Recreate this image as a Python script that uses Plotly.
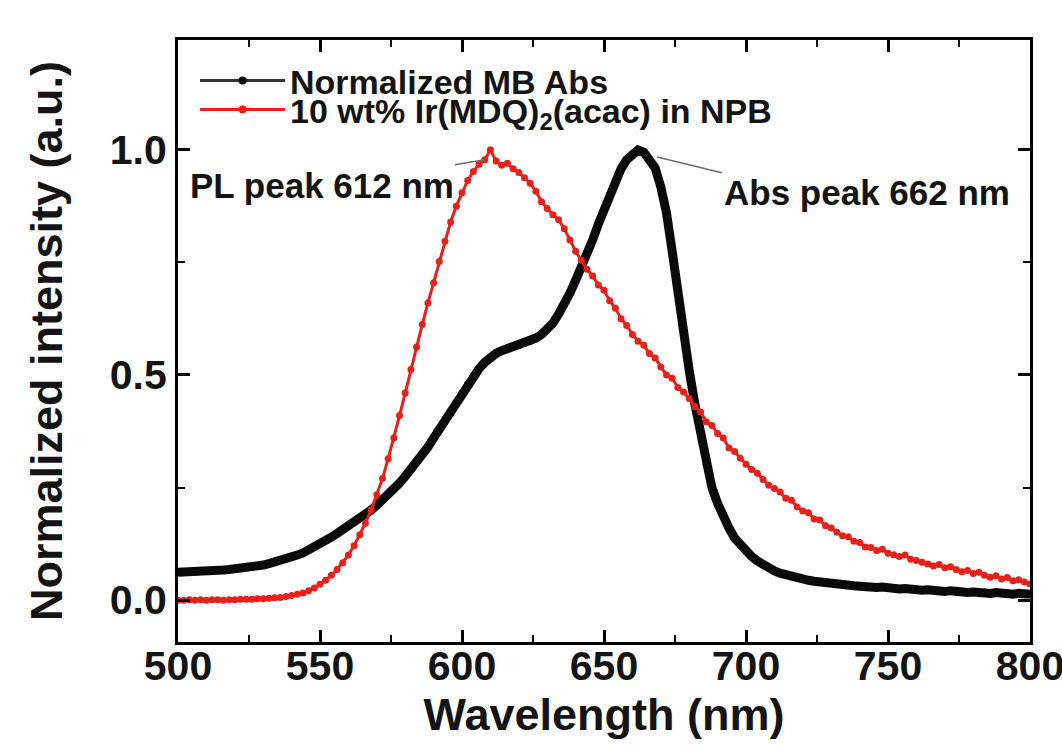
import plotly.graph_objects as go

# ---- data ----
abs_wavelength = list(range(500, 801, 2))
abs_intensity = [
    0.062, 0.062, 0.063, 0.063, 0.064, 0.065, 0.066, 0.066, 0.067, 0.068,  # 500-518
    0.069, 0.071, 0.072, 0.074, 0.076, 0.078, 0.081, 0.084, 0.088, 0.091,  # 520-538
    0.095, 0.100, 0.105, 0.111, 0.117, 0.124, 0.132, 0.140, 0.148, 0.156,  # 540-558
    0.165, 0.173, 0.182, 0.191, 0.200, 0.211, 0.222, 0.233, 0.245, 0.260,  # 560-578
    0.275, 0.290, 0.305, 0.322, 0.340, 0.360, 0.380, 0.400, 0.420, 0.440,  # 580-598
    0.460, 0.480, 0.498, 0.514, 0.528, 0.539, 0.548, 0.554, 0.558, 0.562,  # 600-618
    0.565, 0.570, 0.575, 0.582, 0.590, 0.600, 0.615, 0.635, 0.655, 0.682,  # 620-638
    0.710, 0.738, 0.768, 0.800, 0.835, 0.868, 0.902, 0.932, 0.958, 0.978,  # 640-658
    0.992, 1.000, 0.995, 0.980, 0.960, 0.918, 0.860, 0.775, 0.680, 0.590,  # 660-678
    0.510, 0.435, 0.370, 0.300, 0.250, 0.215, 0.185, 0.160, 0.138, 0.122,  # 680-698
    0.108, 0.097, 0.087, 0.078, 0.071, 0.065, 0.060, 0.056, 0.052, 0.049,  # 700-718
    0.046, 0.044, 0.042, 0.040, 0.038, 0.037, 0.035, 0.034, 0.033, 0.032,  # 720-738
    0.031, 0.029, 0.030, 0.028, 0.029, 0.026, 0.027, 0.025, 0.026, 0.023,  # 740-758
    0.024, 0.022, 0.023, 0.021, 0.022, 0.019, 0.021, 0.018, 0.020, 0.017,  # 760-778
    0.018, 0.016, 0.018, 0.015, 0.017, 0.014, 0.016, 0.013, 0.015, 0.012,  # 780-798
    0.013,                                                                 # 800
]

pl_wavelength = list(range(500, 801, 2))
pl_intensity = [
    0.000, 0.000, 0.001, 0.000, 0.001, 0.000, 0.001, 0.001, 0.000, 0.001,  # 500-518
    0.001, 0.002, 0.002, 0.002, 0.003, 0.003, 0.004, 0.005, 0.006, 0.008,  # 520-538
    0.010, 0.013, 0.016, 0.021, 0.027, 0.035, 0.044, 0.055, 0.068, 0.083,  # 540-558
    0.100, 0.121, 0.145, 0.171, 0.200, 0.234, 0.270, 0.314, 0.360, 0.410,  # 560-578
    0.460, 0.512, 0.562, 0.612, 0.660, 0.705, 0.752, 0.797, 0.840, 0.875,  # 580-598
    0.905, 0.932, 0.952, 0.968, 0.978, 1.000, 0.975, 0.966, 0.970, 0.958,  # 600-618
    0.950, 0.938, 0.926, 0.908, 0.885, 0.870, 0.856, 0.845, 0.825, 0.800,  # 620-638
    0.775, 0.755, 0.735, 0.720, 0.700, 0.688, 0.665, 0.648, 0.625, 0.610,  # 640-658
    0.590, 0.575, 0.566, 0.548, 0.538, 0.518, 0.500, 0.493, 0.472, 0.462,  # 660-678
    0.448, 0.430, 0.418, 0.396, 0.388, 0.370, 0.360, 0.338, 0.330, 0.315,  # 680-698
    0.302, 0.290, 0.282, 0.268, 0.255, 0.248, 0.240, 0.226, 0.222, 0.207,  # 700-718
    0.198, 0.194, 0.180, 0.178, 0.165, 0.160, 0.151, 0.143, 0.141, 0.131,  # 720-738
    0.128, 0.118, 0.117, 0.110, 0.113, 0.104, 0.101, 0.097, 0.100, 0.091,  # 740-758
    0.088, 0.084, 0.080, 0.076, 0.079, 0.072, 0.074, 0.068, 0.063, 0.066,  # 760-778
    0.059, 0.062, 0.055, 0.051, 0.054, 0.047, 0.050, 0.043, 0.045, 0.040,  # 780-798
    0.036,                                                                 # 800
]

series_names = ["Normalized MB Abs", "10 wt% Ir(MDQ)<sub>2</sub>(acac) in NPB"]
x_ticks = [500, 550, 600, 650, 700, 750, 800]
y_ticks = [0.0, 0.5, 1.0]
y_tick_labels = ["0.0", "0.5", "1.0"]

FONT = "Liberation Sans, Arial, sans-serif"
TXT = "#141414"
BLACK = "#0a0a0a"
RED = "#e8201a"

fig = go.Figure()
fig.add_trace(go.Scatter(
    x=abs_wavelength, y=abs_intensity, name=series_names[0],
    mode="lines+markers", showlegend=False,
    line=dict(color=BLACK, width=9),
    marker=dict(color=BLACK, size=7),
))
fig.add_trace(go.Scatter(
    x=pl_wavelength, y=pl_intensity, name=series_names[1],
    mode="lines+markers", showlegend=False,
    line=dict(color=RED, width=3),
    marker=dict(color=RED, size=7),
))
# legend entries (same series, drawn with the thin legend style of the reference)
fig.add_trace(go.Scatter(
    x=[None], y=[None], name=series_names[0], mode="lines+markers",
    line=dict(color="#333333", width=3), marker=dict(color=BLACK, size=8),
    legend="legend",
))
fig.add_trace(go.Scatter(
    x=[None], y=[None], name=series_names[1], mode="lines+markers",
    line=dict(color=RED, width=3), marker=dict(color=RED, size=8),
    legend="legend2",
))

axis_common = dict(
    showline=True, linecolor="black", linewidth=3, mirror="allticks",
    ticks="inside", ticklen=12, tickwidth=3, tickcolor="black",
    showgrid=False, zeroline=False, automargin=False,
    tickfont=dict(family=FONT, size=41, color=TXT, weight="bold"),
    title_font=dict(family=FONT, size=45, color=TXT, weight="bold"),
    ticklabeloverflow="allow",
)

fig.update_xaxes(
    range=[500, 800], tickvals=x_ticks,
    minor=dict(ticks="inside", ticklen=7, tickwidth=2, dtick=25, tickcolor="black"),
    title_text="Wavelength (nm)", title_standoff=6, ticklabelstandoff=-14,
    **axis_common,
)
fig.update_yaxes(
    range=[-0.093, 1.244], tickvals=y_ticks, ticktext=y_tick_labels,
    minor=dict(ticks="inside", ticklen=7, tickwidth=2, dtick=0.25, tickcolor="black"),
    title_text="Normalized intensity (a.u.)", title_standoff=34,
    **axis_common,
)

# leader lines for the peak labels
fig.add_shape(type="line", x0=597.5, y0=0.967, x1=608, y1=0.978,
              line=dict(color="#6e6e6e", width=1.5))
fig.add_shape(type="line", x0=668.7, y0=0.984, x1=691.5, y1=0.949,
              line=dict(color="#6e6e6e", width=1.5))

fig.add_annotation(x=503.5, y=0.92, text="PL peak 612 nm", showarrow=False,
                   xanchor="left", yanchor="middle",
                   font=dict(family=FONT, size=35, color=TXT, weight="bold"))
fig.add_annotation(x=691.5, y=0.905, text="Abs peak 662 nm", showarrow=False,
                   xanchor="left", yanchor="middle",
                   font=dict(family=FONT, size=35, color=TXT, weight="bold"))

legend_common = dict(
    xanchor="left", yanchor="middle", bgcolor="rgba(0,0,0,0)",
    font=dict(family=FONT, size=34, color=TXT, weight="bold"),
    itemwidth=85, tracegroupgap=0,
)

fig.update_layout(
    width=1062, height=754,
    margin=dict(l=178, r=32, t=40, b=112),
    paper_bgcolor="white", plot_bgcolor="white",
    showlegend=True,
    legend=dict(x=0.02, y=0.932, **legend_common),
    legend2=dict(x=0.02, y=0.884, **legend_common),
)

fig.write_html("out.html")
